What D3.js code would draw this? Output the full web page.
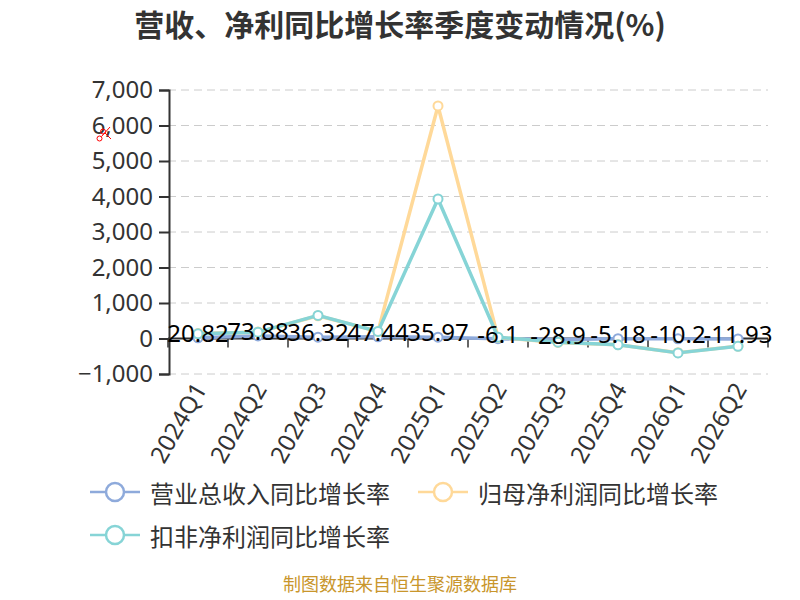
<!DOCTYPE html>
<html>
<head>
<meta charset="utf-8">
<script src="https://cdn.jsdelivr.net/npm/d3@7"></script>
<style>
  body { margin: 0; background: #fff; }
  svg { display: block; font-family: "Noto Sans CJK SC", "Noto Sans", sans-serif; }
  .grid line { stroke: #ccc; stroke-dasharray: 8,5; }
</style>
</head>
<body>
<svg id="chart" width="800" height="600"></svg>
<script>
// quarterly YoY growth (%)
const quarters = ["2024Q1", "2024Q2", "2024Q3", "2024Q4", "2025Q1", "2025Q2", "2025Q3", "2025Q4", "2026Q1", "2026Q2"];
const revenueYoY = [20.82, 73.88, 36.32, 47.44, 35.97, -6.1, -28.9, -5.18, -10.2, -11.93];
const netProfitYoY = [140, 180, 640, 200, 6550, 30, -110, -175, -400, -215];
const deductedProfitYoY = [133, 178, 651, 198, 3930, 37, -105, -178, -405, -218];
const yTicks = [-1000, 0, 1000, 2000, 3000, 4000, 5000, 6000, 7000];

const seriesList = [
    { name: "营业总收入同比增长率", values: revenueYoY, color: "#8eaadb" },
    { name: "归母净利润同比增长率", values: netProfitYoY, color: "#ffd999" },
    { name: "扣非净利润同比增长率", values: deductedProfitYoY, color: "#86d4d6" }
];

const svg = d3.select("#chart");
const plotLeft = 168, plotRight = 768, plotTop = 90, plotBottom = 374;

const x = d3.scaleBand().domain(quarters).range([plotLeft, plotRight]);
const y = d3.scaleLinear().domain([-1000, 7000]).range([plotBottom, plotTop]);
const cx = d => x(d) + x.bandwidth() / 2;

// title
svg.append("text")
    .attr("x", 400).attr("y", 36)
    .attr("text-anchor", "middle")
    .attr("font-size", 30).attr("font-weight", "bold")
    .attr("fill", "#333")
    .text("营收、净利同比增长率季度变动情况(%)");

// grid lines
svg.append("g").attr("class", "grid")
    .selectAll("line")
    .data(yTicks.filter(t => t !== 0))
    .enter().append("line")
    .attr("x1", plotLeft).attr("x2", plotRight)
    .attr("y1", d => y(d)).attr("y2", d => y(d));

// y axis
const yAxis = svg.append("g")
    .attr("transform", `translate(${plotLeft + 1},0)`)
    .call(d3.axisLeft(y).tickValues(yTicks).tickSize(10).tickPadding(6).tickFormat(d3.format(",")));
yAxis.select(".domain").attr("stroke", "#333").attr("stroke-width", 2);
yAxis.selectAll(".tick line").attr("stroke", "#333").attr("stroke-width", 2);
yAxis.selectAll("text").attr("font-size", 24).attr("fill", "#333")
    .attr("font-family", "'Noto Sans', sans-serif");

// x axis on zero
const xAxis = svg.append("g").attr("transform", `translate(0,${y(0)})`);
xAxis.append("line").attr("x1", plotLeft).attr("x2", plotRight).attr("stroke", "#333").attr("stroke-width", 2);
xAxis.selectAll(".xt")
    .data(d3.range(quarters.length + 1))
    .enter().append("line")
    .attr("x1", i => plotLeft + i * x.bandwidth()).attr("x2", i => plotLeft + i * x.bandwidth())
    .attr("y1", 0).attr("y2", 9)
    .attr("stroke", "#333").attr("stroke-width", 1.5);

svg.append("g").selectAll("text")
    .data(quarters)
    .enter().append("text")
    .attr("transform", d => `translate(${cx(d) + 4},${plotBottom + 12}) rotate(-60)`)
    .attr("text-anchor", "end")
    .attr("dominant-baseline", "middle")
    .attr("font-size", 24).attr("fill", "#333")
    .attr("font-family", "'Noto Sans', sans-serif")
    .text(d => d);

// lines and markers
const line = d3.line().x((v, i) => cx(quarters[i])).y(v => y(v));
seriesList.forEach(s => {
    svg.append("path")
        .datum(s.values)
        .attr("d", line)
        .attr("fill", "none")
        .attr("stroke", s.color)
        .attr("stroke-width", 3.5)
        .attr("stroke-linejoin", "round");
    svg.append("g").selectAll("circle")
        .data(s.values)
        .enter().append("circle")
        .attr("cx", (v, i) => cx(quarters[i]))
        .attr("cy", v => y(v))
        .attr("r", 4.5)
        .attr("fill", "#fff")
        .attr("stroke", s.color)
        .attr("stroke-width", 2);
});

// revenue labels
svg.append("g").selectAll("text")
    .data(revenueYoY)
    .enter().append("text")
    .attr("x", (v, i) => cx(quarters[i]))
    .attr("y", v => y(v) + 4)
    .attr("text-anchor", "middle")
    .attr("font-size", 24).attr("fill", "#000")
    .attr("font-family", "'Noto Sans', sans-serif")
    .text(d => d);

// legend
const legendPos = [[90, 492], [418, 492], [90, 535]];
seriesList.forEach((s, i) => {
    const [lx, ly] = legendPos[i];
    const g = svg.append("g").attr("transform", `translate(${lx},${ly})`);
    g.append("line").attr("x1", 0).attr("x2", 50).attr("stroke", s.color).attr("stroke-width", 2.5);
    g.append("circle").attr("cx", 25).attr("r", 9).attr("fill", "#fff").attr("stroke", s.color).attr("stroke-width", 2.5);
    g.append("text").attr("x", 60).attr("y", 0)
        .attr("dominant-baseline", "central")
        .attr("font-size", 24).attr("fill", "#333")
        .text(s.name);
});

// small red scissors mark
const sc = svg.append("g").attr("fill", "none").attr("stroke", "red").attr("stroke-width", 1);
sc.append("circle").attr("cx", 99.5).attr("cy", 138.5).attr("r", 2.5);
sc.append("circle").attr("cx", 103).attr("cy", 131.5).attr("r", 2.5);
sc.append("line").attr("x1", 101.5).attr("y1", 136.5).attr("x2", 110).attr("y2", 127);
sc.append("line").attr("x1", 105).attr("y1", 133).attr("x2", 111).attr("y2", 139);

// source note
svg.append("text")
    .attr("x", 400).attr("y", 591)
    .attr("text-anchor", "middle")
    .attr("font-size", 18).attr("fill", "#c9962c")
    .text("制图数据来自恒生聚源数据库");
</script>
</body>
</html>
